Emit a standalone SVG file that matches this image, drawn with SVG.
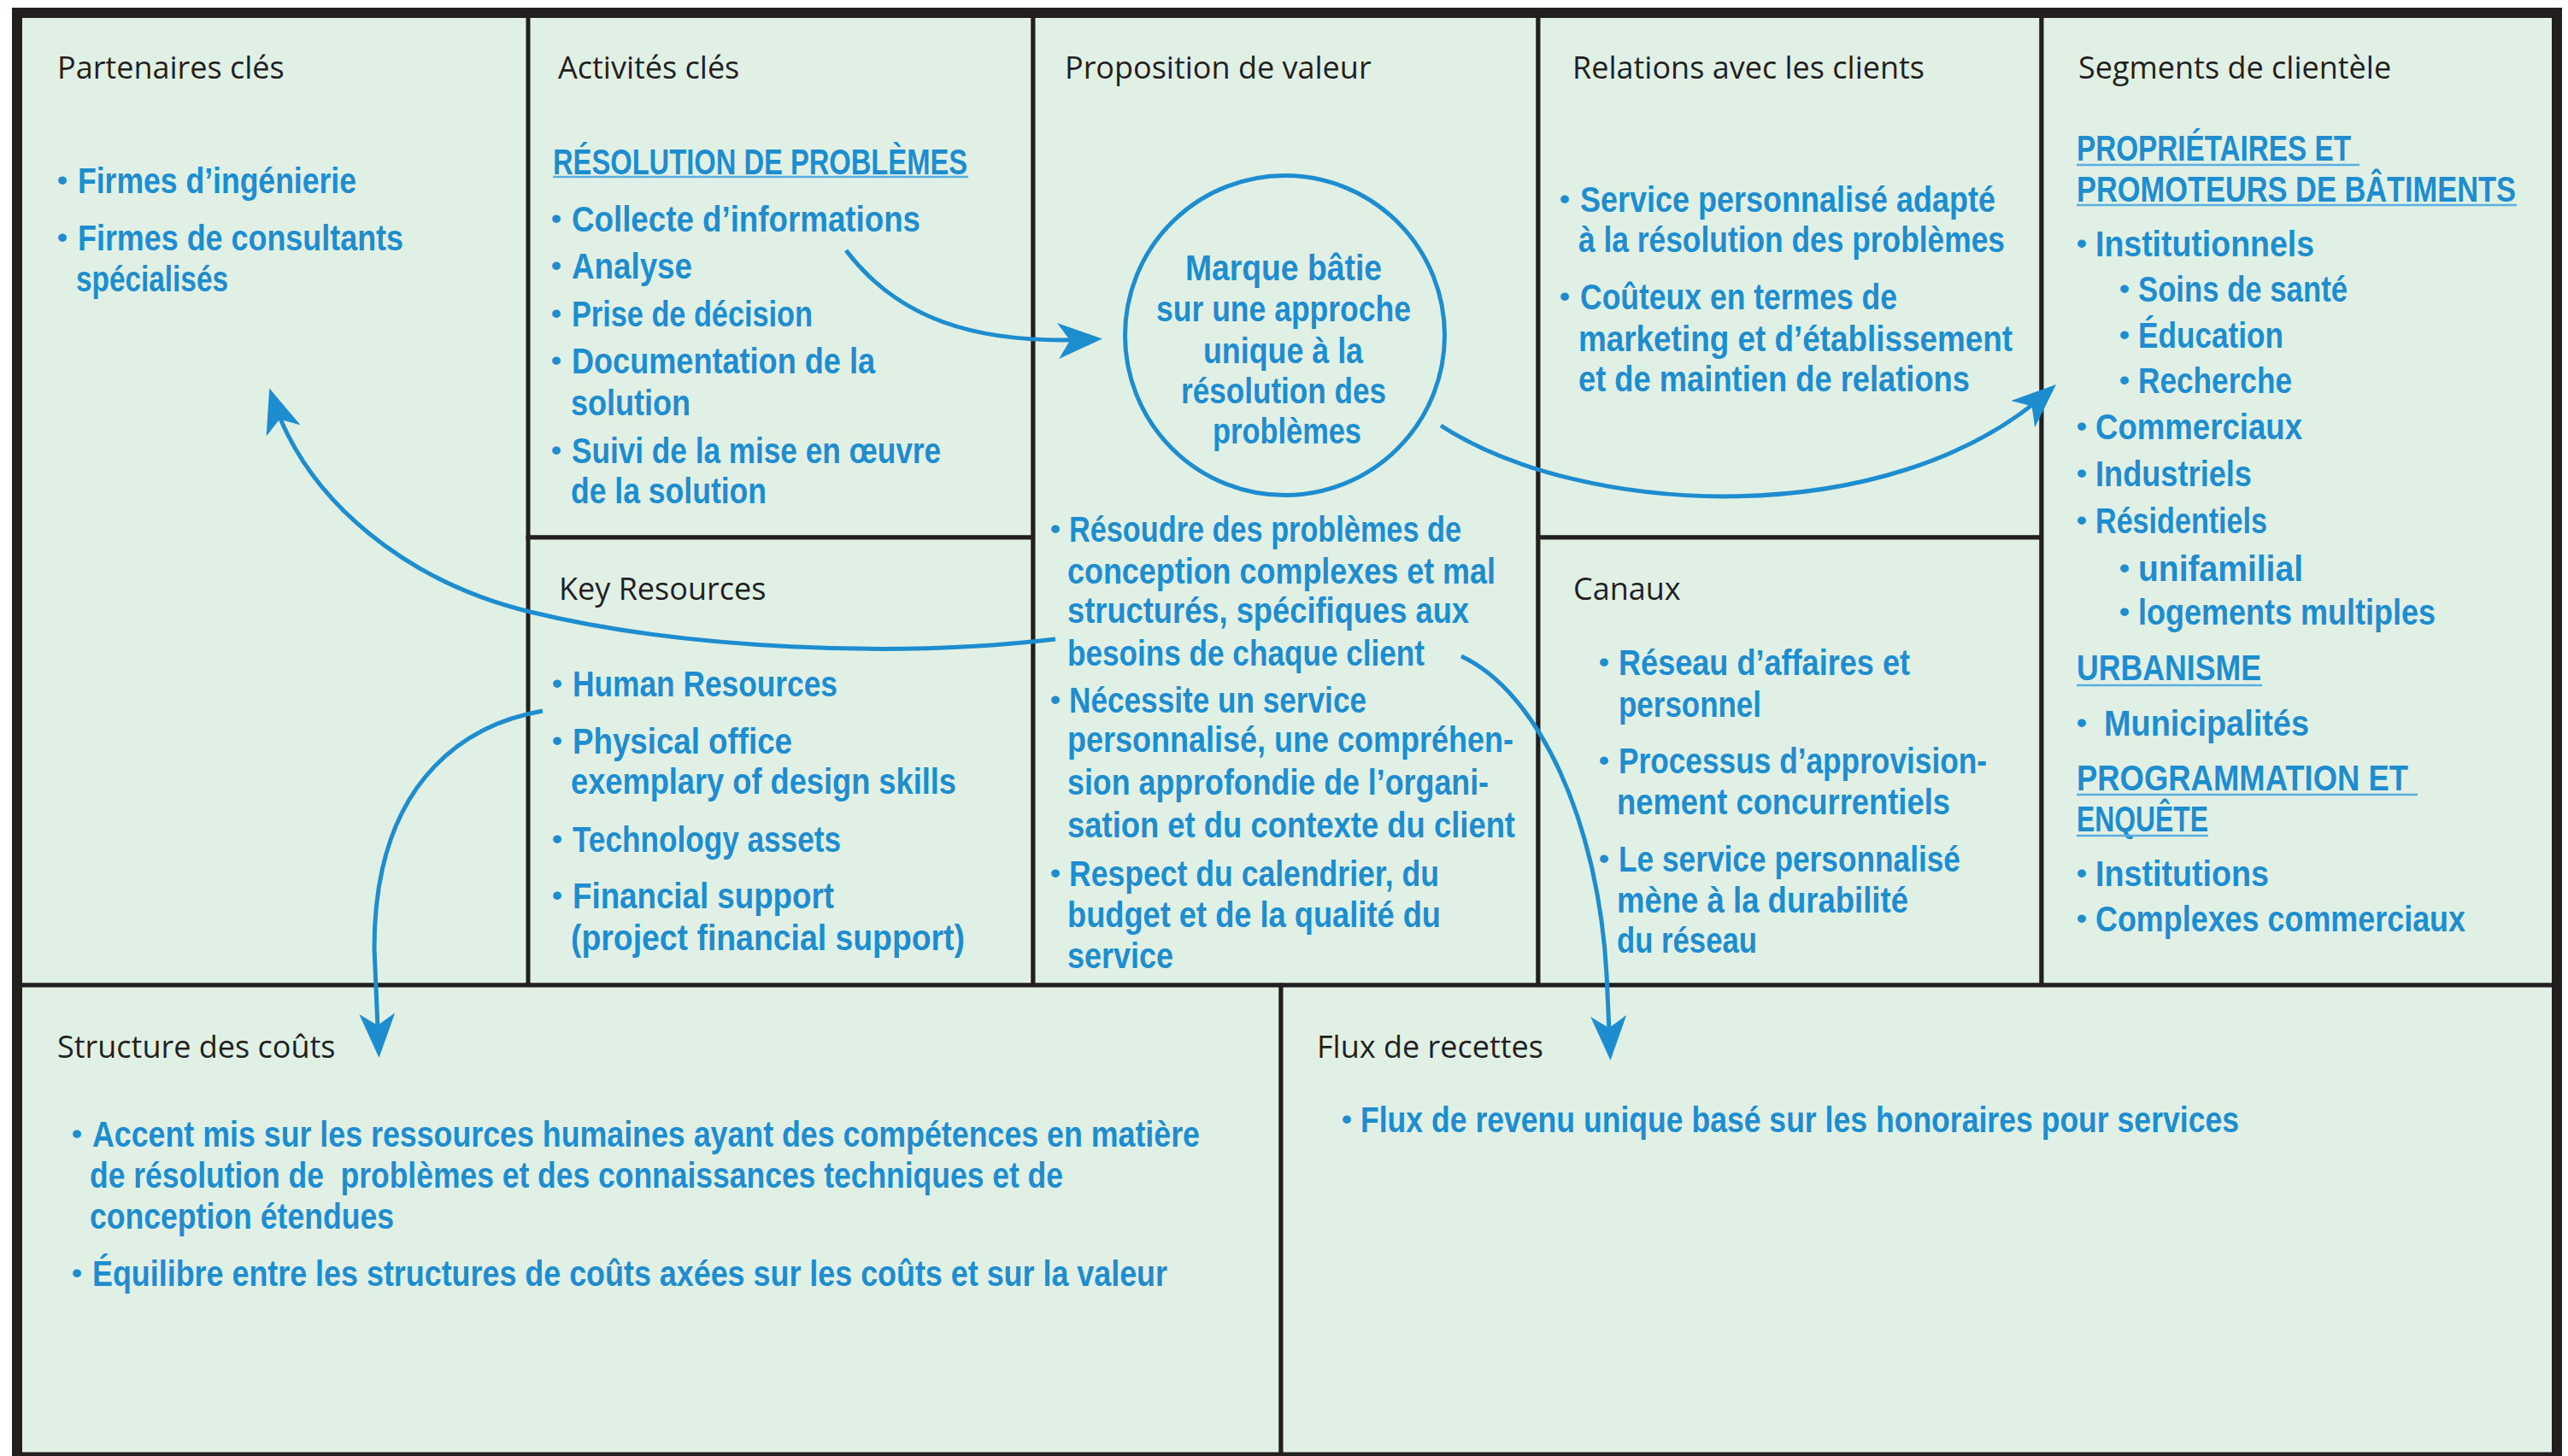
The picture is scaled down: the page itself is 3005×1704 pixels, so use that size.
<svg xmlns="http://www.w3.org/2000/svg" width="3005" height="1704" viewBox="0 0 3005 1704">
<style>
.cell{fill:#e1f0e5;stroke:#231f20;stroke-width:5}
.h{font-family:"Open Sans","Noto Sans",sans-serif;font-size:36px;fill:#231f20}
.t{font-family:"Liberation Sans Narrow","Liberation Sans",Arial,sans-serif;font-weight:700;font-size:42px;fill:#1d8dcf}
.bu{font-family:"Liberation Sans",Arial,sans-serif;font-weight:700;font-size:34px;fill:#1d8dcf}
.ul{stroke:#5aaee0;stroke-width:2.5}
.ring{fill:none;stroke:#1d8dcf;stroke-width:5}
.arr{fill:none;stroke:#1d8dcf;stroke-width:5;marker-end:url(#ah)}
.frame{fill:none;stroke:#231f20;stroke-width:12}
</style>
<defs>
<marker id="ah" markerUnits="userSpaceOnUse" viewBox="0 0 52 42" markerWidth="52" markerHeight="42" refX="40" refY="21" orient="auto">
<path d="M0,0 L52,21 L0,42 L14,21 Z" fill="#1d8dcf"/>
</marker>
</defs>
<rect x="0" y="0" width="3005" height="1704" fill="#ffffff"/>

<g id="partners">
<rect class="cell" x="20" y="15" width="599" height="1138"/>
<text class="h" x="67" y="92">Partenaires clés</text>
<text class="bu" x="67" y="222">•</text>
<text class="t" x="91" y="226" textLength="326" lengthAdjust="spacingAndGlyphs">Firmes d’ingénierie</text>
<text class="bu" x="67" y="289">•</text>
<text class="t" x="91" y="293" textLength="381" lengthAdjust="spacingAndGlyphs">Firmes de consultants</text>
<text class="t" x="89" y="341" textLength="178" lengthAdjust="spacingAndGlyphs">spécialisés</text>
</g>

<g id="activities">
<rect class="cell" x="618" y="15" width="591" height="614"/>
<text class="h" x="653" y="92">Activités clés</text>
<text class="t" x="647" y="204" textLength="485" lengthAdjust="spacingAndGlyphs">RÉSOLUTION DE PROBLÈMES</text>
<line class="ul" x1="647" y1="207" x2="1133" y2="207"/>
<text class="bu" x="645" y="267">•</text>
<text class="t" x="669" y="271" textLength="408" lengthAdjust="spacingAndGlyphs">Collecte d’informations</text>
<text class="bu" x="645" y="322">•</text>
<text class="t" x="669" y="326" textLength="141" lengthAdjust="spacingAndGlyphs">Analyse</text>
<text class="bu" x="645" y="378">•</text>
<text class="t" x="669" y="382" textLength="282" lengthAdjust="spacingAndGlyphs">Prise de décision</text>
<text class="bu" x="645" y="433">•</text>
<text class="t" x="669" y="437" textLength="355" lengthAdjust="spacingAndGlyphs">Documentation de la</text>
<text class="t" x="668" y="486" textLength="140" lengthAdjust="spacingAndGlyphs">solution</text>
<text class="bu" x="645" y="538">•</text>
<text class="t" x="669" y="542" textLength="432" lengthAdjust="spacingAndGlyphs">Suivi de la mise en œuvre</text>
<text class="t" x="668" y="589" textLength="229" lengthAdjust="spacingAndGlyphs">de la solution</text>
</g>

<g id="resources">
<rect class="cell" x="618" y="629" width="591" height="524"/>
<text class="h" x="654" y="702">Key Resources</text>
<text class="bu" x="646" y="811">•</text>
<text class="t" x="670" y="815" textLength="310" lengthAdjust="spacingAndGlyphs">Human Resources</text>
<text class="bu" x="646" y="878">•</text>
<text class="t" x="670" y="882" textLength="257" lengthAdjust="spacingAndGlyphs">Physical office</text>
<text class="t" x="668" y="929" textLength="451" lengthAdjust="spacingAndGlyphs">exemplary of design skills</text>
<text class="bu" x="646" y="993">•</text>
<text class="t" x="670" y="997" textLength="314" lengthAdjust="spacingAndGlyphs">Technology assets</text>
<text class="bu" x="646" y="1059">•</text>
<text class="t" x="670" y="1063" textLength="306" lengthAdjust="spacingAndGlyphs">Financial support</text>
<text class="t" x="668" y="1112" textLength="461" lengthAdjust="spacingAndGlyphs">(project financial support)</text>
</g>

<g id="value">
<rect class="cell" x="1209" y="15" width="591" height="1138"/>
<text class="h" x="1246" y="92">Proposition de valeur</text>
<text class="bu" x="1229" y="630">•</text>
<text class="t" x="1251" y="634" textLength="459" lengthAdjust="spacingAndGlyphs">Résoudre des problèmes de</text>
<text class="t" x="1249" y="683" textLength="501" lengthAdjust="spacingAndGlyphs">conception complexes et mal</text>
<text class="t" x="1249" y="729" textLength="470" lengthAdjust="spacingAndGlyphs">structurés, spécifiques aux</text>
<text class="t" x="1249" y="779" textLength="418" lengthAdjust="spacingAndGlyphs">besoins de chaque client</text>
<text class="bu" x="1229" y="830">•</text>
<text class="t" x="1251" y="834" textLength="348" lengthAdjust="spacingAndGlyphs">Nécessite un service</text>
<text class="t" x="1249" y="880" textLength="522" lengthAdjust="spacingAndGlyphs">personnalisé, une compréhen-</text>
<text class="t" x="1249" y="930" textLength="493" lengthAdjust="spacingAndGlyphs">sion approfondie de l’organi-</text>
<text class="t" x="1249" y="980" textLength="524" lengthAdjust="spacingAndGlyphs">sation et du contexte du client</text>
<text class="bu" x="1229" y="1033">•</text>
<text class="t" x="1251" y="1037" textLength="433" lengthAdjust="spacingAndGlyphs">Respect du calendrier, du</text>
<text class="t" x="1249" y="1085" textLength="437" lengthAdjust="spacingAndGlyphs">budget et de la qualité du</text>
<text class="t" x="1249" y="1133" textLength="124" lengthAdjust="spacingAndGlyphs">service</text>
</g>

<g id="brand">
<circle class="ring" cx="1503.5" cy="392.5" r="187"/>
<text class="t" x="1387" y="328" textLength="230" lengthAdjust="spacingAndGlyphs">Marque bâtie</text>
<text class="t" x="1353" y="376" textLength="298" lengthAdjust="spacingAndGlyphs">sur une approche</text>
<text class="t" x="1408" y="425" textLength="187" lengthAdjust="spacingAndGlyphs">unique à la</text>
<text class="t" x="1382" y="472" textLength="240" lengthAdjust="spacingAndGlyphs">résolution des</text>
<text class="t" x="1419" y="519" textLength="174" lengthAdjust="spacingAndGlyphs">problèmes</text>
</g>

<g id="relations">
<rect class="cell" x="1800" y="15" width="589" height="614"/>
<text class="h" x="1840" y="92">Relations avec les clients</text>
<text class="bu" x="1825" y="244">•</text>
<text class="t" x="1849" y="248" textLength="486" lengthAdjust="spacingAndGlyphs">Service personnalisé adapté</text>
<text class="t" x="1847" y="295" textLength="499" lengthAdjust="spacingAndGlyphs">à la résolution des problèmes</text>
<text class="bu" x="1825" y="358">•</text>
<text class="t" x="1849" y="362" textLength="371" lengthAdjust="spacingAndGlyphs">Coûteux en termes de</text>
<text class="t" x="1847" y="411" textLength="508" lengthAdjust="spacingAndGlyphs">marketing et d’établissement</text>
<text class="t" x="1847" y="458" textLength="458" lengthAdjust="spacingAndGlyphs">et de maintien de relations</text>
</g>

<g id="channels">
<rect class="cell" x="1800" y="629" width="589" height="524"/>
<text class="h" x="1841" y="702">Canaux</text>
<text class="bu" x="1871" y="786">•</text>
<text class="t" x="1894" y="790" textLength="341" lengthAdjust="spacingAndGlyphs">Réseau d’affaires et</text>
<text class="t" x="1894" y="839" textLength="167" lengthAdjust="spacingAndGlyphs">personnel</text>
<text class="bu" x="1871" y="901">•</text>
<text class="t" x="1894" y="905" textLength="431" lengthAdjust="spacingAndGlyphs">Processus d’approvision-</text>
<text class="t" x="1892" y="953" textLength="390" lengthAdjust="spacingAndGlyphs">nement concurrentiels</text>
<text class="bu" x="1871" y="1016">•</text>
<text class="t" x="1894" y="1020" textLength="400" lengthAdjust="spacingAndGlyphs">Le service personnalisé</text>
<text class="t" x="1892" y="1068" textLength="341" lengthAdjust="spacingAndGlyphs">mène à la durabilité</text>
<text class="t" x="1892" y="1115" textLength="164" lengthAdjust="spacingAndGlyphs">du réseau</text>
</g>

<g id="segments">
<rect class="cell" x="2389" y="15" width="603" height="1138"/>
<text class="h" x="2432" y="92">Segments de clientèle</text>
<text class="t" x="2430" y="188" textLength="321" lengthAdjust="spacingAndGlyphs">PROPRIÉTAIRES ET</text>
<line class="ul" x1="2430" y1="193" x2="2761" y2="193"/>
<text class="t" x="2430" y="236" textLength="514" lengthAdjust="spacingAndGlyphs">PROMOTEURS DE BÂTIMENTS</text>
<line class="ul" x1="2430" y1="240" x2="2945" y2="240"/>
<text class="bu" x="2430" y="296">•</text>
<text class="t" x="2452" y="300" textLength="256" lengthAdjust="spacingAndGlyphs">Institutionnels</text>
<text class="bu" x="2480" y="349">•</text>
<text class="t" x="2502" y="353" textLength="245" lengthAdjust="spacingAndGlyphs">Soins de santé</text>
<text class="bu" x="2480" y="403">•</text>
<text class="t" x="2502" y="407" textLength="170" lengthAdjust="spacingAndGlyphs">Éducation</text>
<text class="bu" x="2480" y="456">•</text>
<text class="t" x="2502" y="460" textLength="180" lengthAdjust="spacingAndGlyphs">Recherche</text>
<text class="bu" x="2430" y="510">•</text>
<text class="t" x="2452" y="514" textLength="242" lengthAdjust="spacingAndGlyphs">Commerciaux</text>
<text class="bu" x="2430" y="565">•</text>
<text class="t" x="2452" y="569" textLength="183" lengthAdjust="spacingAndGlyphs">Industriels</text>
<text class="bu" x="2430" y="620">•</text>
<text class="t" x="2452" y="624" textLength="201" lengthAdjust="spacingAndGlyphs">Résidentiels</text>
<text class="bu" x="2480" y="676">•</text>
<text class="t" x="2502" y="680" textLength="193" lengthAdjust="spacingAndGlyphs">unifamilial</text>
<text class="bu" x="2480" y="727">•</text>
<text class="t" x="2502" y="731" textLength="348" lengthAdjust="spacingAndGlyphs">logements multiples</text>
<text class="t" x="2430" y="796" textLength="216" lengthAdjust="spacingAndGlyphs">URBANISME</text>
<line class="ul" x1="2430" y1="802" x2="2647" y2="802"/>
<text class="bu" x="2430" y="857">•</text>
<text class="t" x="2462" y="861" textLength="240" lengthAdjust="spacingAndGlyphs">Municipalités</text>
<text class="t" x="2430" y="925" textLength="388" lengthAdjust="spacingAndGlyphs">PROGRAMMATION ET</text>
<line class="ul" x1="2430" y1="930" x2="2829" y2="930"/>
<text class="t" x="2430" y="973" textLength="154" lengthAdjust="spacingAndGlyphs">ENQUÊTE</text>
<line class="ul" x1="2430" y1="978" x2="2584" y2="978"/>
<text class="bu" x="2430" y="1033">•</text>
<text class="t" x="2452" y="1037" textLength="203" lengthAdjust="spacingAndGlyphs">Institutions</text>
<text class="bu" x="2430" y="1086">•</text>
<text class="t" x="2452" y="1090" textLength="433" lengthAdjust="spacingAndGlyphs">Complexes commerciaux</text>
</g>

<g id="costs">
<rect class="cell" x="20" y="1153" width="1479" height="549"/>
<text class="h" x="67" y="1238">Structure des coûts</text>
<text class="bu" x="84" y="1338">•</text>
<text class="t" x="108" y="1342" textLength="1296" lengthAdjust="spacingAndGlyphs">Accent mis sur les ressources humaines ayant des compétences en matière</text>
<text class="t" x="105" y="1390" textLength="1139" lengthAdjust="spacingAndGlyphs" xml:space="preserve">de résolution de  problèmes et des connaissances techniques et de</text>
<text class="t" x="105" y="1438" textLength="356" lengthAdjust="spacingAndGlyphs">conception étendues</text>
<text class="bu" x="84" y="1501">•</text>
<text class="t" x="108" y="1505" textLength="1258" lengthAdjust="spacingAndGlyphs">Équilibre entre les structures de coûts axées sur les coûts et sur la valeur</text>
</g>

<g id="revenue">
<rect class="cell" x="1499" y="1153" width="1493" height="549"/>
<text class="h" x="1541" y="1238">Flux de recettes</text>
<text class="bu" x="1570" y="1321">•</text>
<text class="t" x="1592" y="1325" textLength="1028" lengthAdjust="spacingAndGlyphs">Flux de revenu unique basé sur les honoraires pour services</text>
</g>

<path class="frame" d="M20,1704 L20,15 L2992,15 L2992,1704"/>

<g id="connectors">
<path class="arr" d="M990,293 C1050,372 1140,404 1278,397"/>
<path class="arr" d="M1686,498 C1850,605 2210,625 2397,458"/>
<path class="arr" d="M1235,748 C1050,770 800,760 620,716 C480,682 360,590 319,466"/>
<path class="arr" d="M635,832 C560,845 438,900 438,1110 L443,1226"/>
<path class="arr" d="M1710,768 C1800,810 1870,960 1880,1140 L1884,1229"/>
</g>
</svg>
